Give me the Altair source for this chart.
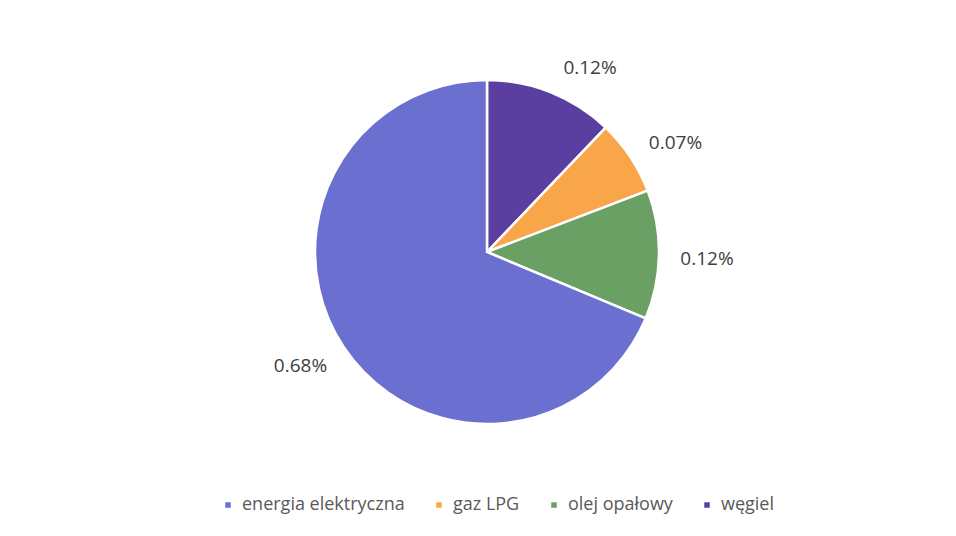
import altair as alt
import pandas as pd

categories = ["węgiel", "gaz LPG", "olej opałowy", "energia elektryczna"]
values = [0.12, 0.07, 0.12, 0.68]
labels = ["0.12%", "0.07%", "0.12%", "0.68%"]
order = [0, 1, 2, 3]
legend_order = ["energia elektryczna", "gaz LPG", "olej opałowy", "węgiel"]
colors = ["#6b70d0", "#f9a64a", "#6aa063", "#5a3fa0"]

# small label nudges (style only) per slice, like Excel's best-fit placement
label_dx = [22, 7, 2, -5]
label_dy = [18, 12, 4, -7]

df = pd.DataFrame({"cat": categories, "val": values, "label": labels, "ord": order})

W, H = 940, 520
cx, cy = 479, 244

base = alt.Chart(df).encode(
    theta=alt.Theta("val:Q", stack=True),
    order=alt.Order("ord:Q"),
)

pie = base.mark_arc(radius=172, stroke="white", strokeWidth=2.5).encode(
    x=alt.value(cx), y=alt.value(cy),
    color=alt.Color("cat:N", scale=alt.Scale(domain=legend_order, range=colors),
                    legend=alt.Legend(title=None, orient="none", direction="horizontal",
                                      legendX=211, legendY=488, symbolType="square",
                                      symbolSize=30, labelFontSize=18, labelColor="#595959",
                                      labelFont="Open Sans", columnPadding=25, labelOffset=5,
                                      labelLimit=400, symbolStrokeWidth=0)),
)

layers = [pie]
for i, cat in enumerate(categories):
    t = base.mark_text(radius=218, fontSize=19, font="Open Sans", color="#404040",
                       dx=label_dx[i], dy=label_dy[i]).encode(
        x=alt.value(cx), y=alt.value(cy),
        text=alt.condition(alt.datum.cat == cat, "label:N", alt.value("")),
    )
    layers.append(t)

chart = alt.layer(*layers).properties(
    width=W, height=H, autosize=alt.AutoSizeParams(type="none"), padding=0,
    background="white",
).configure_view(stroke=None)

chart.save("out.html", embed_options={"renderer": "svg", "actions": False})
